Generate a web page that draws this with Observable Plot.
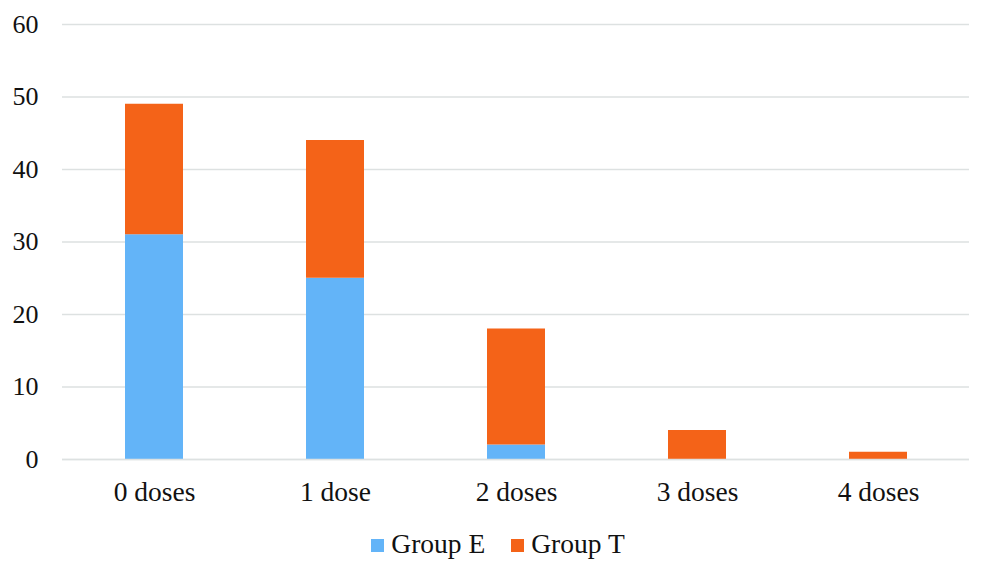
<!DOCTYPE html>
<html><head><meta charset="utf-8">
<script src="https://cdn.jsdelivr.net/npm/d3@7"></script>
<script src="https://cdn.jsdelivr.net/npm/@observablehq/plot@0.6"></script>
<style>
body{margin:0;background:#fff;font-family:"Liberation Serif","Times New Roman",serif;}
#legend{display:flex;justify-content:center;gap:26px;font-size:27.5px;line-height:30px;color:#111;margin-top:19px;padding-left:4px;}
#legend span.sw{display:inline-block;width:13px;height:13px;margin-right:7px;vertical-align:1px;}
</style></head><body>
<div id="chart"></div>
<div id="legend"></div>
<script>
const categories = ["0 doses","1 dose","2 doses","3 doses","4 doses"];
const groups = ["Group E","Group T"];
const groupE = [31,25,2,0,0];
const groupT = [18,19,16,4,1];
const colors = ["#63b4f8","#f46318"];
const yTicks = [0,10,20,30,40,50,60];

const data = [];
categories.forEach((c,i)=>{
  data.push({cat:c, group:groups[0], value:groupE[i]});
  data.push({cat:c, group:groups[1], value:groupT[i]});
});

const chart = Plot.plot({
  width: 992, height: 510,
  marginTop: 24, marginBottom: 51, marginLeft: 62, marginRight: 23,
  style: {fontFamily: '"Liberation Serif","Times New Roman",serif', fontSize: "26px", color:"#111"},
  x: {domain: categories, paddingInner: 0.68, paddingOuter: 0.34, label: null},
  y: {domain: [0,60], label: null},
  color: {domain: groups, range: colors},
  marks: [
    Plot.gridY(yTicks, {stroke:"#dde1e1", strokeOpacity:1, strokeWidth:1.3}),
    Plot.barY(data, Plot.stackY({x:"cat", y:"value", fill:"group", order: groups})),
    Plot.ruleY([0], {stroke:"#dde1e1", strokeWidth:1.5}),
    Plot.axisX({tickSize:0, tickPadding:22, fontSize:27.5, label:null}),
    Plot.axisY(yTicks, {tickSize:0, tickPadding:24, fontSize:26, label:null})
  ]
});
document.getElementById("chart").appendChild(chart);
const lg = document.getElementById("legend");
groups.forEach((g,i)=>{
  const d = document.createElement("div");
  d.innerHTML = `<span class="sw" style="background:${colors[i]}"></span>${g}`;
  lg.appendChild(d);
});
</script>
</body></html>
